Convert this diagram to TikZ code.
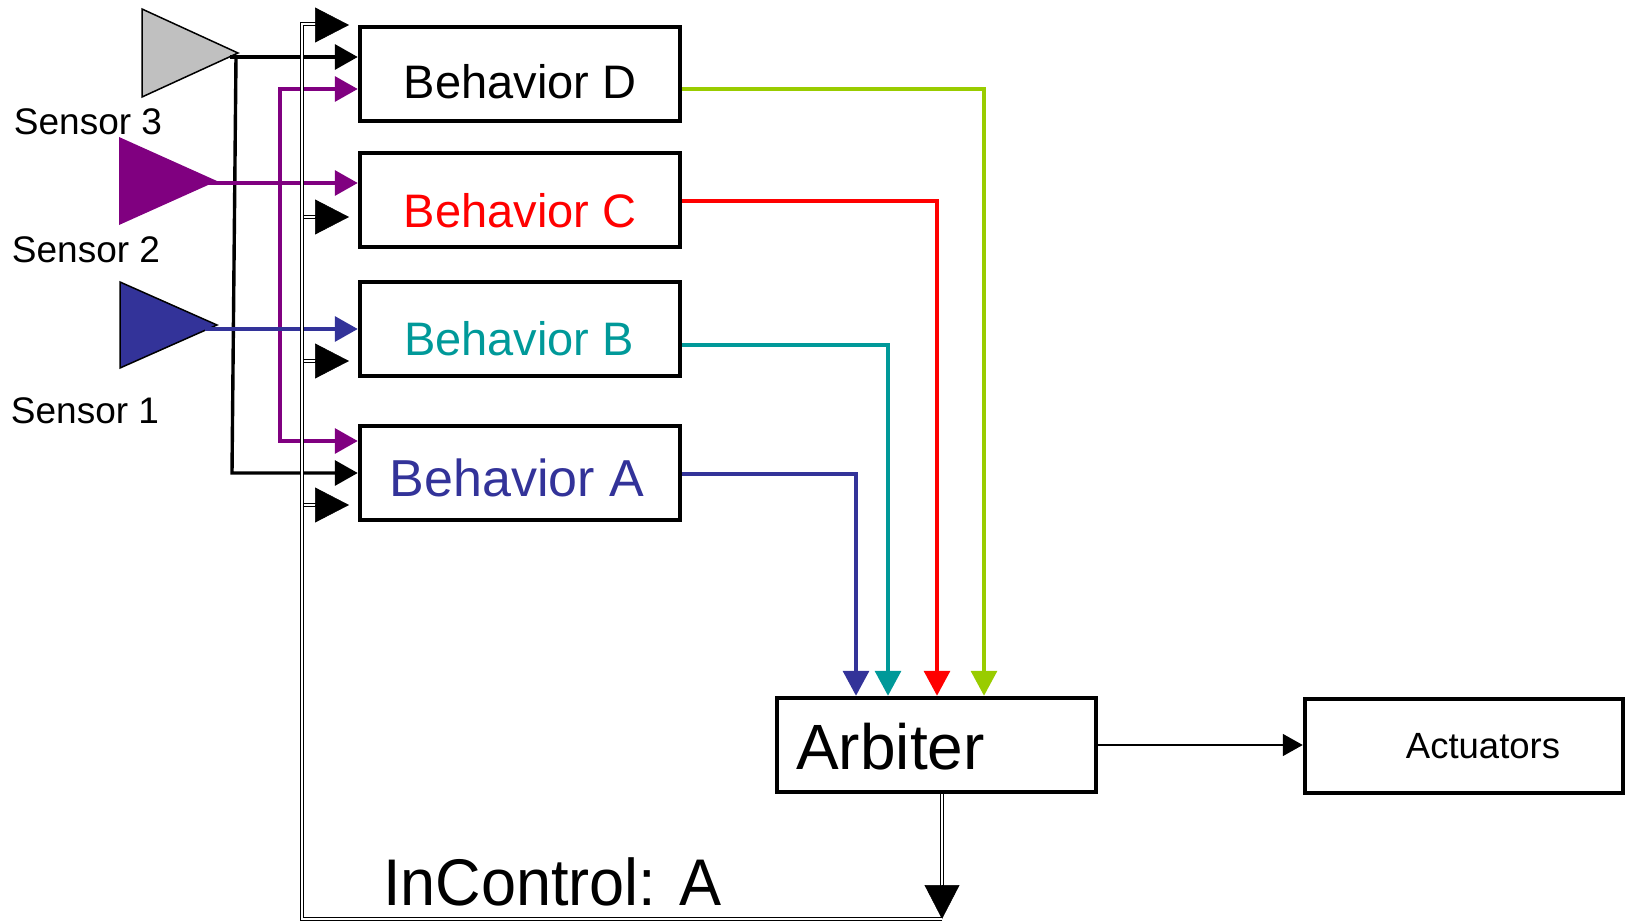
\documentclass[tikz,border=0pt]{standalone}
\usepackage{fontspec}
\setmainfont{Liberation Sans}
\usetikzlibrary{arrows.meta,calc}
\definecolor{sgray}{HTML}{C0C0C0}
\definecolor{spurple}{HTML}{800080}
\definecolor{sblue}{HTML}{333399}
\definecolor{steal}{HTML}{009999}
\definecolor{sred}{HTML}{FF0000}
\definecolor{sgreen}{HTML}{99CC00}
\begin{document}
\begin{tikzpicture}[x=1pt,y=-1pt,
  box/.style={draw=black,line width=4.5pt,minimum width=320pt,minimum height=94pt,inner sep=0pt},
  lbl/.style={inner sep=0pt,anchor=base},
  feed/.style={line width=3.4pt,-{Triangle[length=23pt,width=25pt]}},
  vote/.style={line width=3.4pt,-{Triangle[length=25pt,width=26pt]}},
  bus/.style={double,double distance=1.6pt,line width=1.5pt},
  bushead/.style={line width=0.5pt,-{Triangle[length=34pt,width=35pt]}},
  horn/.style={line width=1.5pt,line join=miter}
]
\useasboundingbox (0,0) rectangle (1632,923);

% behaviour boxes, arbiter, actuators
\node[box] (D) at (520,74) {};
\node[box] (C) at (520,200) {};
\node[box] (B) at (520,329) {};
\node[box] (A) at (520,473) {};
\node[box,minimum width=319pt] (Arb) at (936.5,745) {};
\node[box,minimum width=318pt] (Act) at (1464,746) {};

\node[lbl,font=\fontsize{47}{50}\selectfont] (Dt) at (520,99) {Behavior D};
\node[lbl,font=\fontsize{47}{50}\selectfont,text=sred] (Ct) at (520,227) {Behavior C};
\node[lbl,font=\fontsize{47}{50}\selectfont,text=steal] (Bt) at (519,355) {Behavior B};
\node[lbl,font=\fontsize{52}{56}\selectfont,text=sblue] (At) at (517,496) {Behavior A};
\node[lbl,anchor=base west,font=\fontsize{64}{68}\selectfont] (Arbt) at (796,769) {Arbiter};
\node[lbl,font=\fontsize{36.5}{40}\selectfont] (Actt) at (1483,758) {Actuators};
\node[lbl,anchor=base west,font=\fontsize{66}{70}\selectfont] (ctlt) at (383,905) {\scalebox{0.955}[1]{InControl: A}};

% sensors
\filldraw[horn,fill=sgray,draw=black] (142,9) -- (238,53) -- (142,97) -- cycle;
\fill[spurple] (119,137) -- (217,181) -- (119,225) -- cycle;
\filldraw[horn,fill=sblue,draw=black] (120,282) -- (217,325) -- (120,368) -- cycle;
\node[lbl,font=\fontsize{37}{40}\selectfont] (s3t) at (88,135) {Sensor 3};
\node[lbl,font=\fontsize{37}{40}\selectfont] (s2t) at (86,262) {Sensor 2};
\node[lbl,font=\fontsize{37}{40}\selectfont] (s1t) at (85,423) {Sensor 1};

\coordinate (s3) at (230,57);
\coordinate (s3c) at (236,57);
\coordinate (s3b) at (232,473);
\coordinate (s2) at (208,183);
\coordinate (s2t1) at (280,89);
\coordinate (s2b1) at (280,441);
\coordinate (s1) at (205,329);

% sensor feeds
\draw[feed,black] (s3) -- (D.west |- s3);
\draw[feed,black] (s3c) -- (s3b) -- (A.west);
\draw[feed,spurple] (s2) -- (C.west |- s2);
\draw[feed,spurple,{Triangle[length=23pt,width=25pt]}-{Triangle[length=23pt,width=25pt]}]
  (D.west |- s2t1) -- (s2t1) -- (s2b1) -- (A.west |- s2b1);
\draw[feed,sblue] (s1) -- (B.west |- s1);

% behaviour outputs into the arbiter
\coordinate (gx) at (984,89);
\coordinate (rx) at (937,201);
\coordinate (tx) at (888,345);
\coordinate (bx) at (856,474);
\draw[vote,sgreen] (D.east |- gx) -- (gx) -- (Arb.north -| gx);
\draw[vote,sred] (C.east |- rx) -- (rx) -- (Arb.north -| rx);
\draw[vote,steal] (B.east |- tx) -- (tx) -- (Arb.north -| tx);
\draw[vote,sblue] (A.east |- bx) -- (bx) -- (Arb.north -| bx);

% arbiter to actuators
\draw[line width=1.6pt,-{Triangle[length=20pt,width=22pt]}] (Arb.east) -- (Arb.east -| Act.west);

% in-control bus
\coordinate (ctl) at (942,919);
\coordinate (bl) at (302,919);
\coordinate (tl) at (302,24);
\coordinate (hD) at (349,25);
\coordinate (hC) at (349,217);
\coordinate (hB) at (349,361);
\coordinate (hA) at (349,505);
\draw[bus] (Arb.south -| ctl) -- ($(ctl)+(0,-33)$);
\draw[bushead] ($(ctl)+(0,-34)$) -- (ctl);
\draw[bus] (ctl) -- (bl) -- (tl) -- ($(hD)+(-33,-1)$);
\draw[bushead] ($(hD)+(-34,0)$) -- (hD);
\foreach \h in {hC,hB,hA}{
  \draw[bus] ($(\h)+(-45,0)$) -- ($(\h)+(-33,0)$);
  \draw[bushead] ($(\h)+(-34,0)$) -- (\h);
}
\end{tikzpicture}
\end{document}
